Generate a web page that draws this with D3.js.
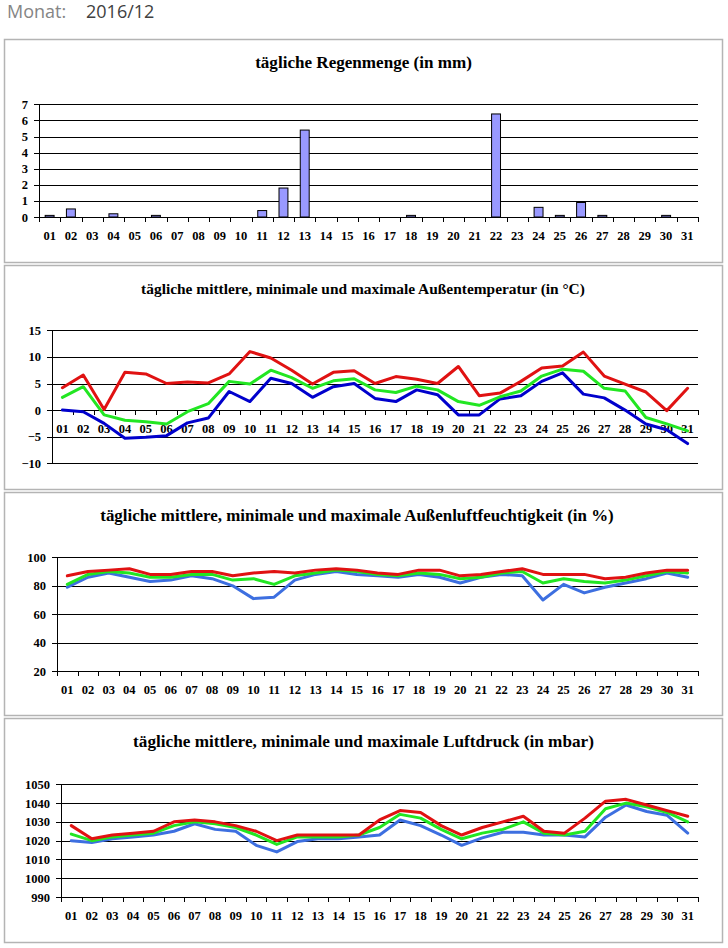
<!DOCTYPE html>
<html><head><meta charset="utf-8">
<script src="https://cdn.jsdelivr.net/npm/d3@7"></script>
<style>
body{margin:0;background:#fff;}
svg{display:block;}
.tick text{font-family:"Liberation Serif",serif;font-weight:bold;font-size:12.5px;fill:#000;}
</style></head>
<body>
<svg id="c" width="728" height="948"></svg>
<script>
const days = ["01","02","03","04","05","06","07","08","09","10","11","12","13","14","15","16","17","18","19","20","21","22","23","24","25","26","27","28","29","30","31"];
const rain = [0.1,0.5,0,0.2,0,0.1,0,0,0,0,0.4,1.8,5.4,0,0,0,0,0.1,0,0,0,6.4,0,0.6,0.1,0.9,0.1,0,0,0.1,0];
const tempMax = [4.2,6.6,0.1,7.1,6.8,5.0,5.3,5.1,6.8,11.0,9.8,7.5,4.9,7.1,7.4,5.0,6.3,5.8,5.0,8.2,2.7,3.2,5.4,7.9,8.3,10.9,6.4,4.9,3.4,-0.1,4.1];
const tempMean = [2.4,4.4,-0.9,-1.9,-2.2,-2.6,-0.3,1.2,5.4,4.9,7.5,6.1,4.1,5.5,5.9,3.8,3.3,4.5,3.8,1.6,0.9,2.5,3.6,6.4,7.7,7.3,4.1,3.6,-1.4,-2.6,-3.9];
const tempMin = [0.0,-0.3,-2.5,-5.3,-5.1,-4.8,-2.4,-1.5,3.5,1.6,6.0,5.0,2.4,4.4,5.0,2.2,1.6,3.8,2.9,-0.9,-0.9,2.1,2.7,5.4,7.0,3.0,2.3,0.0,-2.6,-3.7,-6.3];
const humMax = [87,90,91,92,88,88,90,90,87,89,90,89,91,92,91,89,88,91,91,87,88,90,92,88,88,88,85,86,89,91,91];
const humMean = [81,88,90,89,86,86,88,88,84,85,81,87,89,91,90,88,87,89,88,85,86,89,90,82,85,83,82,84,87,90,89];
const humMin = [79,86,89,86,83,84,87,85,80,71,72,84,88,90,88,87,86,88,86,82,86,88,87,70,81,75,79,82,85,89,86];
const pressMax = [1028,1021,1023,1024,1025,1030,1031,1030,1028,1025,1020,1023,1023,1023,1023,1031,1036,1035,1028,1023,1027,1030,1033,1025,1024,1032,1041,1042,1039,1036,1033];
const pressMean = [1023.5,1020,1022,1023,1024,1028,1030,1029,1027,1023,1018,1022,1022,1022,1023,1027,1034,1032,1026,1021,1024,1026,1030,1024,1023,1025,1037,1040,1038,1035,1030];
const pressMin = [1020,1019,1021,1022,1023,1025,1029,1026,1025,1017.5,1014,1019.5,1021,1021,1022,1023,1031,1028,1023,1017.5,1021.5,1024.5,1024.5,1023,1023,1022,1032.5,1039,1035.5,1033.5,1024];
const rainTicks = [0,1,2,3,4,5,6,7];
const tempTicks = [-10,-5,0,5,10,15];
const humTicks = [20,40,60,80,100];
const pressTicks = [990,1000,1010,1020,1030,1040,1050];
const titles = ["tägliche Regenmenge (in mm)",
  "tägliche mittlere, minimale und maximale Außentemperatur (in °C)",
  "tägliche mittlere, minimale und maximale Außenluftfeuchtigkeit (in %)",
  "tägliche mittlere, minimale und maximale Luftdruck (in mbar)"];

const svg = d3.select("#c");
svg.append("text").attr("x",7).attr("y",18).attr("font-family","Open Sans, sans-serif")
  .attr("font-size",18).attr("fill","#858585").text("Monat:");
svg.append("text").attr("x",86).attr("y",18).attr("font-family","Open Sans, sans-serif")
  .attr("font-size",18).attr("fill","#404040").text("2016/12");

const RED="#e01212", GREEN="#22e622";
const TITLE_FONT = "Liberation Serif, serif";
function fitSize(text, target){
  const t = svg.append("text").attr("font-family",TITLE_FONT).attr("font-weight","bold").attr("font-size",14).text(text);
  const w = t.node().getComputedTextLength();
  t.remove();
  return w>0 ? 14*target/w : 14;
}

function panel(cfg){
  const g = svg.append("g");
  g.append("rect").attr("x",cfg.box[0]+0.5).attr("y",cfg.box[1]+0.5).attr("width",cfg.box[2]).attr("height",cfg.box[3])
    .attr("fill","none").attr("stroke","#b4b4b4").attr("stroke-width",1.5);
  g.append("text").attr("x",cfg.tx+cfg.tw/2).attr("y",cfg.box[1]+29).attr("text-anchor","middle")
    .attr("font-family",TITLE_FONT).attr("font-weight","bold").attr("font-size",fitSize(cfg.title,cfg.tw)).text(cfg.title);
  const x = d3.scaleBand().domain(days).range([cfg.x0,cfg.x1]).paddingInner(0).paddingOuter(0);
  const xl = d3.scaleLinear().domain([0,31]).range([cfg.x0,cfg.x1]);
  const y = d3.scaleLinear().domain(cfg.domain).range([cfg.yb,cfg.yt]);
  g.append("g").attr("transform",`translate(${cfg.x0},0)`)
    .call(d3.axisLeft(y).tickValues(cfg.ticks).tickSize(-(cfg.x1-cfg.x0)).tickFormat(""))
    .call(s=>{s.select(".domain").remove(); s.selectAll("line").attr("stroke","#000").attr("shape-rendering","crispEdges");});
  g.append("g").attr("transform",`translate(${cfg.x0},0)`)
    .call(d3.axisLeft(y).tickValues(cfg.ticks).tickFormat(d3.format("d")).tickSize(5).tickPadding(6).tickSizeOuter(0))
    .call(s=>{s.selectAll("line,path").attr("stroke","#000").attr("shape-rendering","crispEdges");});
  const ax = y(cfg.axisAt);
  g.append("g").attr("transform",`translate(0,${ax})`)
    .call(d3.axisBottom(xl).tickValues(d3.range(32)).tickFormat("").tickSize(5).tickSizeOuter(0))
    .call(s=>{s.selectAll("line,path").attr("stroke","#000").attr("shape-rendering","crispEdges");});
  g.append("g").attr("transform",`translate(0,${ax})`)
    .call(d3.axisBottom(x).tickSize(0).tickPadding(14))
    .call(s=>s.select(".domain").remove());
  return {g,x,y};
}

{
  const {g,x,y} = panel({box:[4,39,718,223],title:titles[0],tx:255,tw:217,x0:39,x1:698,yt:104.3,yb:217,domain:[0,7],ticks:rainTicks,axisAt:0});
  const bw = x.bandwidth()*0.42;
  g.append("g").selectAll("rect").data(days.map((d,i)=>({d,v:rain[i]})).filter(o=>o.v>0)).join("rect")
    .attr("x",o=>x(o.d)+x.bandwidth()/2-bw/2).attr("width",bw)
    .attr("y",o=>y(o.v)).attr("height",o=>y(0)-y(o.v))
    .attr("fill","#9999ff").attr("stroke","#000").attr("stroke-width",1);
}

function lines(p, series){
  const line = d3.line().x((v,i)=>p.x(days[i])+p.x.bandwidth()/2).y(v=>p.y(v));
  series.forEach(([data,color])=>{
    p.g.append("path").attr("d",line(data)).attr("fill","none").attr("stroke",color)
      .attr("stroke-width",3).attr("stroke-linejoin","round").attr("stroke-linecap","round");
  });
}

{
  const p = panel({box:[4,265,718,224],title:titles[1],tx:141,tw:444,x0:52,x1:698,yt:330.3,yb:463.3,domain:[-10,15],ticks:tempTicks,axisAt:0});
  lines(p,[[tempMin,"#0000cc"],[tempMean,GREEN],[tempMax,RED]]);
}
{
  const p = panel({box:[4,492,718,223],title:titles[2],tx:100,tw:514,x0:57,x1:698,yt:557.3,yb:671.3,domain:[20,100],ticks:humTicks,axisAt:20});
  lines(p,[[humMin,"#3d6fe0"],[humMean,GREEN],[humMax,RED]]);
}
{
  const p = panel({box:[4,718,718,224],title:titles[3],tx:133,tw:461,x0:61,x1:698,yt:784.3,yb:897,domain:[990,1050],ticks:pressTicks,axisAt:990});
  lines(p,[[pressMin,"#3d6fe0"],[pressMean,GREEN],[pressMax,RED]]);
}
</script>
</body></html>
